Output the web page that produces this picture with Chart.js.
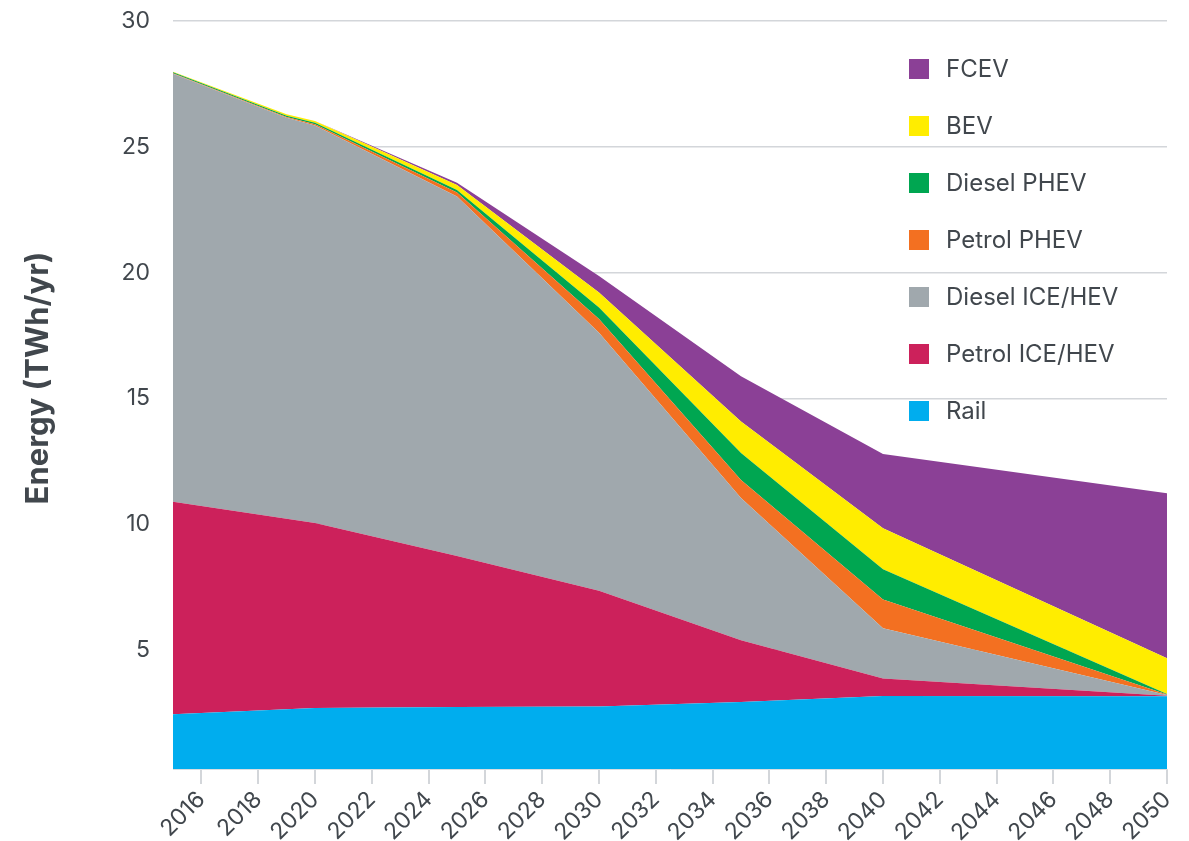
<!DOCTYPE html>
<html>
<head>
<meta charset="utf-8">
<title>Energy by transport type</title>
<script src="https://cdn.jsdelivr.net/npm/chart.js@4/dist/chart.umd.min.js"></script>
<style>
  html, body { margin: 0; padding: 0; background: #fff; }
  #wrap { width: 1189px; height: 841px; }
</style>
</head>
<body>
<div id="wrap"><canvas id="energyChart" width="1189" height="841"></canvas></div>
<script>
// years with data points
const years = [2015, 2019, 2020, 2025, 2030, 2035, 2040, 2050];

// series, bottom of the stack first (TWh/yr)
const rail       = [2.45, 2.64, 2.69, 2.73, 2.75, 2.93, 3.17, 3.16];
const petrolIce  = [8.44, 7.58, 7.36, 6.01, 4.60, 2.46, 0.70, 0.02];
const dieselIce  = [17.01, 15.93, 15.80, 14.28, 10.26, 5.65, 1.99, 0.03];
const petrolPhev = [0.02, 0.03, 0.05, 0.16, 0.55, 0.72, 1.15, 0.02];
const dieselPhev = [0.04, 0.05, 0.06, 0.10, 0.45, 1.07, 1.20, 0.02];
const bev        = [0.02, 0.06, 0.07, 0.20, 0.60, 1.25, 1.63, 1.42];
const fcev       = [0.00, 0.00, 0.00, 0.09, 0.65, 1.80, 2.95, 6.56];

const seriesNames  = ['Rail', 'Petrol ICE/HEV', 'Diesel ICE/HEV', 'Petrol PHEV', 'Diesel PHEV', 'BEV', 'FCEV'];
const seriesColors = ['#00adee', '#cc215b', '#a0a8ad', '#f37021', '#00a651', '#ffed00', '#8b4096'];

// axis ticks
const xTicks = [2016, 2018, 2020, 2022, 2024, 2026, 2028, 2030, 2032, 2034, 2036, 2038, 2040, 2042, 2044, 2046, 2048, 2050];
const yTicks = [5, 10, 15, 20, 25, 30];

const TEXT = '#41474d';
const GRID = '#d3d6da';
const FONT = 'Inter, Roboto, "Noto Sans", sans-serif';

function toPoints(arr) {
  return years.map((x, i) => ({ x: x, y: arr[i] }));
}

const seriesData = [rail, petrolIce, dieselIce, petrolPhev, dieselPhev, bev, fcev];
const datasets = seriesData.map((arr, i) => ({
  label: seriesNames[i],
  data: toPoints(arr),
  backgroundColor: seriesColors[i],
  borderWidth: 0,
  pointRadius: 0,
  tension: 0,
  fill: i === 0 ? 'origin' : '-1'
}));

// legend inside the plot, top entry = top of the stack
const insideLegend = {
  id: 'insideLegend',
  afterDraw(chart) {
    const ctx = chart.ctx;
    ctx.save();
    ctx.font = '24px ' + FONT;
    ctx.textBaseline = 'middle';
    ctx.textAlign = 'left';
    const n = chart.data.datasets.length;
    for (let k = 0; k < n; k++) {
      const ds = chart.data.datasets[n - 1 - k];
      const cy = 69 + k * 57;
      ctx.fillStyle = ds.backgroundColor;
      ctx.fillRect(909, cy - 10, 20, 20);
      ctx.fillStyle = TEXT;
      ctx.fillText(ds.label, 946, cy + 1);
    }
    ctx.restore();
  }
};

// y axis title, drawn by hand to match its place
const yTitle = {
  id: 'yTitle',
  afterDraw(chart) {
    const ctx = chart.ctx;
    ctx.save();
    ctx.translate(48, 378);
    ctx.rotate(-Math.PI / 2);
    ctx.font = 'bold 31px ' + FONT;
    ctx.fillStyle = TEXT;
    ctx.textAlign = 'center';
    ctx.textBaseline = 'alphabetic';
    ctx.fillText('Energy (TWh/yr)', 0, 0);
    ctx.restore();
  }
};

new Chart(document.getElementById('energyChart').getContext('2d'), {
  type: 'line',
  data: { datasets },
  options: {
    responsive: false,
    animation: false,
    layout: { padding: { top: 21, right: 22, left: 0, bottom: 0 } },
    plugins: {
      legend: { display: false },
      tooltip: { enabled: false }
    },
    scales: {
      x: {
        type: 'linear',
        min: 2015,
        max: 2050,
        afterBuildTicks: axis => { axis.ticks = xTicks.map(v => ({ value: v })); },
        afterFit: s => { s.height = 72; },
        ticks: {
          minRotation: 45,
          maxRotation: 45,
          padding: 2,
          color: TEXT,
          font: { size: 23, family: FONT },
          callback: v => String(v)
        },
        grid: { drawOnChartArea: false, drawTicks: true, tickLength: 15, color: GRID, lineWidth: 2 },
        border: { display: true, color: '#dadde0', width: 1 }
      },
      y: {
        stacked: true,
        min: 0.27,
        max: 30,
        afterBuildTicks: axis => { axis.ticks = yTicks.map(v => ({ value: v })); },
        // fixed width, and no extra top/bottom room for the labels
        afterFit: s => { s.width = 173; s.paddingTop = 0; s.paddingBottom = 0; },
        ticks: {
          padding: 23,
          color: TEXT,
          font: { size: 23, family: FONT },
          callback: v => String(v)
        },
        grid: { color: GRID, lineWidth: 1.5, drawTicks: false },
        border: { display: false }
      }
    }
  },
  plugins: [insideLegend, yTitle]
});
</script>
</body>
</html>
